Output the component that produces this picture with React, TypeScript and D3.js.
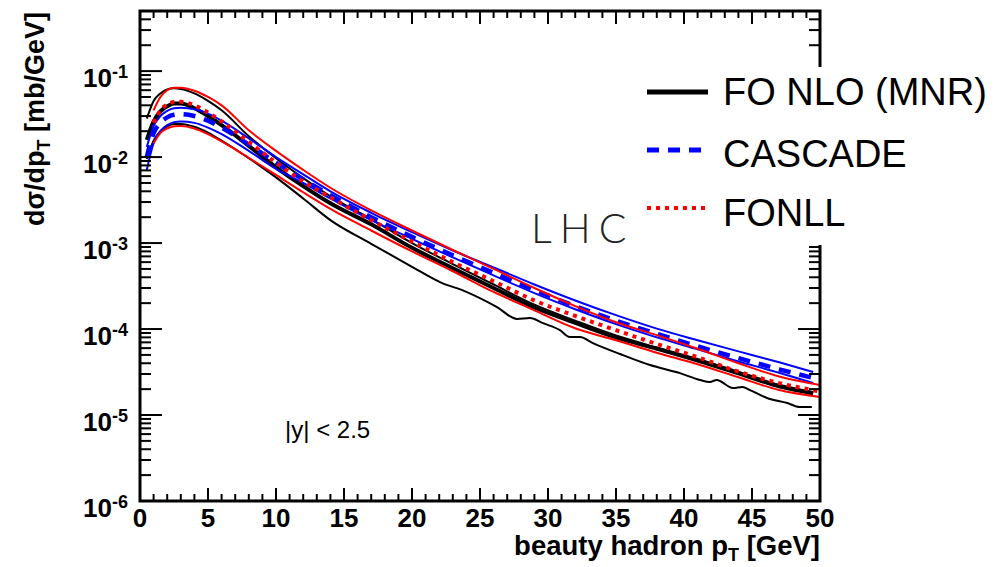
import React from 'react';
import * as d3 from 'd3';

// ---- data ----
const ptGrid = [0.5, 1, 1.5, 2, 2.5, 3, 4, 5, 6, 8, 10, 12, 14, 17, 20, 23, 26, 29, 32, 35, 38, 41, 44, 47, 49.5];
const mnrCentral = [0.0158, 0.026, 0.034, 0.039, 0.042, 0.042, 0.037, 0.030, 0.0235, 0.0135, 0.0076, 0.0046, 0.0029, 0.00165, 0.00088, 0.00051, 0.00030, 0.000178, 0.000118, 0.000080, 0.000059, 0.000043, 0.0000305, 0.0000215, 0.0000178];
const mnrUpper = [0.028, 0.045, 0.055, 0.061, 0.063, 0.062, 0.055, 0.045, 0.035, 0.0175, 0.0097, 0.0057, 0.0035, 0.0019, 0.00100, 0.00057, 0.00033, 0.000192, 0.000125, 0.000084, 0.000061, 0.000045, 0.000032, 0.0000225, 0.0000185];
const ptMnrLower = [0.5, 1, 1.5, 2, 2.5, 3, 4, 5, 6, 8, 10, 12, 14, 17, 20, 22.06, 24.04, 26.25, 27.72, 28.68, 29.63, 30.88, 31.6, 32.35, 33.3, 35.3, 37.5, 39.7, 41.2, 41.9, 42.4, 43.6, 44.3, 44.85, 46.1, 47.6, 48.5, 49.4];
const mnrLower = [0.0095, 0.0155, 0.020, 0.0228, 0.0242, 0.0243, 0.0225, 0.0192, 0.0155, 0.0097, 0.0058, 0.0033, 0.00185, 0.00098, 0.00053, 0.000352, 0.000269, 0.000180, 0.000131, 0.000134, 0.000117, 0.000097, 0.0000807, 0.0000807, 0.0000687, 0.0000512, 0.0000381, 0.0000307, 0.0000255, 0.0000242, 0.0000255, 0.0000206, 0.0000212, 0.0000195, 0.0000158, 0.0000138, 0.0000124, 0.0000124];

const cascadeCentral = [0.0100, 0.019, 0.025, 0.029, 0.031, 0.0315, 0.030, 0.0265, 0.022, 0.0140, 0.0086, 0.0055, 0.0036, 0.0020, 0.00118, 0.00072, 0.00045, 0.000285, 0.000185, 0.000125, 0.000088, 0.000063, 0.000046, 0.000034, 0.000027];
const cascadeUpper = [0.0131, 0.023, 0.030, 0.0345, 0.037, 0.0375, 0.036, 0.032, 0.0265, 0.0165, 0.0100, 0.0063, 0.0040, 0.00225, 0.00134, 0.00082, 0.00052, 0.00033, 0.000215, 0.000145, 0.000101, 0.000074, 0.000055, 0.000041, 0.0000316];
const cascadeLower = [0.0071, 0.0145, 0.020, 0.0235, 0.0255, 0.026, 0.025, 0.022, 0.0185, 0.0118, 0.0073, 0.0050, 0.0033, 0.00185, 0.00112, 0.00068, 0.00042, 0.000262, 0.000170, 0.000114, 0.000080, 0.000058, 0.000042, 0.000031, 0.0000235];

const ptFonll = [1, 1.5, 2, 2.5, 3, 4, 5, 6, 8, 10, 12, 14, 17, 20, 23, 26, 29, 32, 35, 38, 41, 44, 47, 50];
const fonllCentral = [0.025, 0.035, 0.041, 0.0437, 0.044, 0.040, 0.033, 0.026, 0.0150, 0.0086, 0.0052, 0.0034, 0.00185, 0.00104, 0.00060, 0.00036, 0.000215, 0.000142, 0.000097, 0.000067, 0.000047, 0.000032, 0.0000235, 0.0000188];
const fonllUpper = [0.035, 0.050, 0.060, 0.064, 0.064, 0.059, 0.050, 0.040, 0.0205, 0.0118, 0.0071, 0.0044, 0.0024, 0.00140, 0.00083, 0.00050, 0.000300, 0.000185, 0.000120, 0.000085, 0.000059, 0.000040, 0.000028, 0.0000223];
const fonllLower = [0.0145, 0.0190, 0.0215, 0.0228, 0.0230, 0.0215, 0.0185, 0.0152, 0.0098, 0.0062, 0.0039, 0.0025, 0.00140, 0.00080, 0.00047, 0.00027, 0.000165, 0.000102, 0.000074, 0.000053, 0.000039, 0.0000275, 0.0000195, 0.0000162];

const xMajorTicks = [0, 5, 10, 15, 20, 25, 30, 35, 40, 45, 50];
const yDecades = [-6, -5, -4, -3, -2, -1];
const legendLabels = ['FO NLO (MNR)', 'CASCADE', 'FONLL'];

const W = 1000, H = 567;
const L = 140, R = 820, T = 11, B = 501;
const FONT = "'Liberation Sans', Arial, Helvetica, sans-serif";

export default function App() {
  const x = d3.scaleLinear().domain([0, 50]).range([L, R]);
  const y = d3.scaleLog().domain([1e-6, 0.5]).range([B, T]);

  const line = (xs: number[], ys: number[]) =>
    d3.line<number>().x((_, i) => x(xs[i])).y((v) => y(v)).curve(d3.curveMonotoneX)(ys) || '';

  const xMinor = d3.range(0, 51, 1);
  const yMinor: number[] = [];
  yDecades.forEach((e) => {
    for (let m = 2; m <= 9; m++) {
      const v = m * Math.pow(10, e);
      if (v <= 0.5) yMinor.push(v);
    }
  });

  const legendY = [92, 150, 208];
  const legendTextY = [105, 167, 226];

  return (
    <svg width={W} height={H} style={{ position: 'absolute', left: 0, top: 0, background: '#fff' }} fontFamily={FONT}>
      <defs>
        <clipPath id="plot">
          <rect x={L} y={T} width={R - L} height={B - T} />
        </clipPath>
      </defs>
      <rect x={0} y={0} width={W} height={H} fill="#fff" />

      <g clipPath="url(#plot)" fill="none">
        {/* FO NLO (MNR) */}
        <path d={line(ptGrid, mnrUpper)} stroke="#000" strokeWidth={2} />
        <path d={line(ptMnrLower, mnrLower)} stroke="#000" strokeWidth={2} />
        <path d={line(ptGrid, mnrCentral)} stroke="#000" strokeWidth={4} />
        {/* CASCADE */}
        <path d={line(ptGrid, cascadeUpper)} stroke="#0000ff" strokeWidth={2} />
        <path d={line(ptGrid, cascadeLower)} stroke="#0000ff" strokeWidth={2} />
        <path d={line(ptGrid, cascadeCentral)} stroke="#0000ff" strokeWidth={4.5} strokeDasharray="12,9" />
        {/* FONLL */}
        <path d={line(ptFonll, fonllUpper)} stroke="#ff0000" strokeWidth={2} />
        <path d={line(ptFonll, fonllLower)} stroke="#ff0000" strokeWidth={2} />
        <path d={line(ptFonll, fonllCentral)} stroke="#ff0000" strokeWidth={4} strokeDasharray="4,5" />
      </g>

      {/* frame */}
      <rect x={L} y={T} width={R - L} height={B - T} fill="none" stroke="#000" strokeWidth={3} />

      {/* x ticks */}
      {xMinor.map((v) => {
        const major = v % 5 === 0;
        const len = major ? 13 : 7;
        return (
          <g key={'xt' + v} stroke="#000" strokeWidth={2}>
            <line x1={x(v)} x2={x(v)} y1={B} y2={B - len} />
            <line x1={x(v)} x2={x(v)} y1={T} y2={T + len} />
          </g>
        );
      })}
      {/* y ticks */}
      {yDecades.map((e) => {
        const v = Math.pow(10, e);
        return (
          <g key={'yt' + e} stroke="#000" strokeWidth={2}>
            <line x1={L} x2={L + 22} y1={y(v)} y2={y(v)} />
            <line x1={R} x2={R - 22} y1={y(v)} y2={y(v)} />
          </g>
        );
      })}
      {yMinor.map((v, i) => (
        <g key={'ym' + i} stroke="#000" strokeWidth={2}>
          <line x1={L} x2={L + 11} y1={y(v)} y2={y(v)} />
          <line x1={R} x2={R - 11} y1={y(v)} y2={y(v)} />
        </g>
      ))}

      {/* x tick labels */}
      {xMajorTicks.map((v) => (
        <text key={'xl' + v} x={x(v)} y={527} textAnchor="middle" fontSize={26} fontWeight="bold">
          {v}
        </text>
      ))}
      {/* y tick labels */}
      {yDecades.map((e) => {
        const py = y(Math.pow(10, e));
        return (
          <g key={'yl' + e} fontWeight="bold">
            <text x={112} y={py + 16} textAnchor="end" fontSize={26}>10</text>
            <text x={112} y={py + 7} textAnchor="start" fontSize={18}>{String(e)}</text>
          </g>
        );
      })}

      {/* axis titles */}
      <text x={820} y={555} textAnchor="end" fontSize={27.5} fontWeight="bold">
        beauty hadron p<tspan fontSize={18} dy={6}>T</tspan><tspan dy={-6}> [GeV]</tspan>
      </text>
      <text transform="translate(44,12) rotate(-90)" textAnchor="end" fontSize={27} fontWeight="bold">
        dσ/dp<tspan fontSize={18} dy={6}>T</tspan><tspan dy={-6}> [mb/GeV]</tspan>
      </text>

      {/* annotations */}
      <text x={285} y={438} fontSize={24}>|y| &lt; 2.5</text>
      <text x={531} y={243} fontSize={41} fontFamily="Lato, 'Open Sans', sans-serif" fontWeight={300} fill="#222" letterSpacing={8}>LHC</text>

      {/* legend box (white, covers the frame like the original) */}
      <rect x={640} y={67} width={360} height={178} fill="#fff" />
      <line x1={647} x2={708} y1={legendY[0]} y2={legendY[0]} stroke="#000" strokeWidth={5} />
      <line x1={647} x2={708} y1={legendY[1]} y2={legendY[1]} stroke="#0000ff" strokeWidth={5} strokeDasharray="12,9" />
      <line x1={647} x2={708} y1={legendY[2]} y2={legendY[2]} stroke="#ff0000" strokeWidth={4} strokeDasharray="4,5" />
      {legendLabels.map((t, i) => (
        <text key={t} x={723} y={legendTextY[i]} fontSize={38}>{t}</text>
      ))}
    </svg>
  );
}
